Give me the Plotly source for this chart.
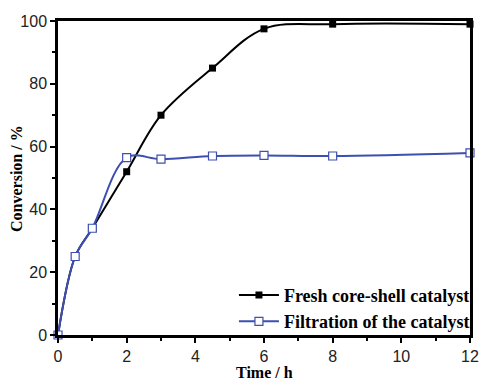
import plotly.graph_objects as go

time_fresh = [0, 0.5, 1, 2, 3, 4.5, 6, 8, 12]
conv_fresh = [0, 25, 34, 52, 70, 85, 97.5, 99, 99]
time_filt = [0, 0.5, 1, 2, 3, 4.5, 6, 8, 12]
conv_filt = [0, 25, 34, 56.5, 56, 57, 57.2, 57, 58]

fig = go.Figure()
fig.add_trace(go.Scatter(
    x=time_fresh, y=conv_fresh, mode="lines+markers", name="<b>Fresh core-shell catalyst</b>",
    line=dict(color="black", width=2, shape="spline", smoothing=1.0),
    marker=dict(symbol="square", size=7, color="black"),
    cliponaxis=False))
fig.add_trace(go.Scatter(
    x=time_filt, y=conv_filt, mode="lines+markers", name="<b>Filtration of the catalyst</b>",
    line=dict(color="#3d4fb0", width=2, shape="spline", smoothing=1.0),
    marker=dict(symbol="square", size=8, color="white", line=dict(color="#3d4fb0", width=1.2)),
    cliponaxis=False))

axis_common = dict(
    showgrid=False, zeroline=False, showline=True, linecolor="black", linewidth=2.5,
    mirror=True, ticks="outside", ticklen=5, tickwidth=1.5, tickcolor="black",
    tickfont=dict(family="Arial, Liberation Sans", size=16, color="#222"),
)
fig.update_xaxes(range=[0, 12], dtick=2, tick0=0,
                 minor=dict(dtick=1, ticks="outside", ticklen=3, tickcolor="black", tickwidth=1.5),
                 **axis_common)
fig.update_yaxes(range=[0, 100], dtick=20, tick0=0,
                 minor=dict(dtick=10, ticks="outside", ticklen=3, tickcolor="black", tickwidth=1.5),
                 **axis_common)
title_font = dict(family="Times New Roman, Liberation Serif", size=16, color="black")
fig.add_annotation(text="<b>Time / h</b>", xref="paper", yref="paper", x=0.5, y=-0.118,
                   xanchor="center", yanchor="middle", showarrow=False, font=title_font)
fig.add_annotation(text="<b>Conversion / %</b>", xref="paper", yref="paper", x=-0.102, y=0.5,
                   xanchor="center", yanchor="middle", showarrow=False, textangle=-90,
                   font=title_font)
fig.update_layout(
    width=488, height=380, plot_bgcolor="white", paper_bgcolor="white",
    margin=dict(l=58, r=9, t=21, b=45),
    legend=dict(x=1.012, y=-0.015, xanchor="right", yanchor="bottom", bgcolor="rgba(0,0,0,0)",
                font=dict(family="Times New Roman, Liberation Serif", size=18, color="black"),
                tracegroupgap=0, itemwidth=40),
    showlegend=True,
)
fig.write_html("out.html", config={"displayModeBar": False},
               post_script="document.body.style.margin='0';")
